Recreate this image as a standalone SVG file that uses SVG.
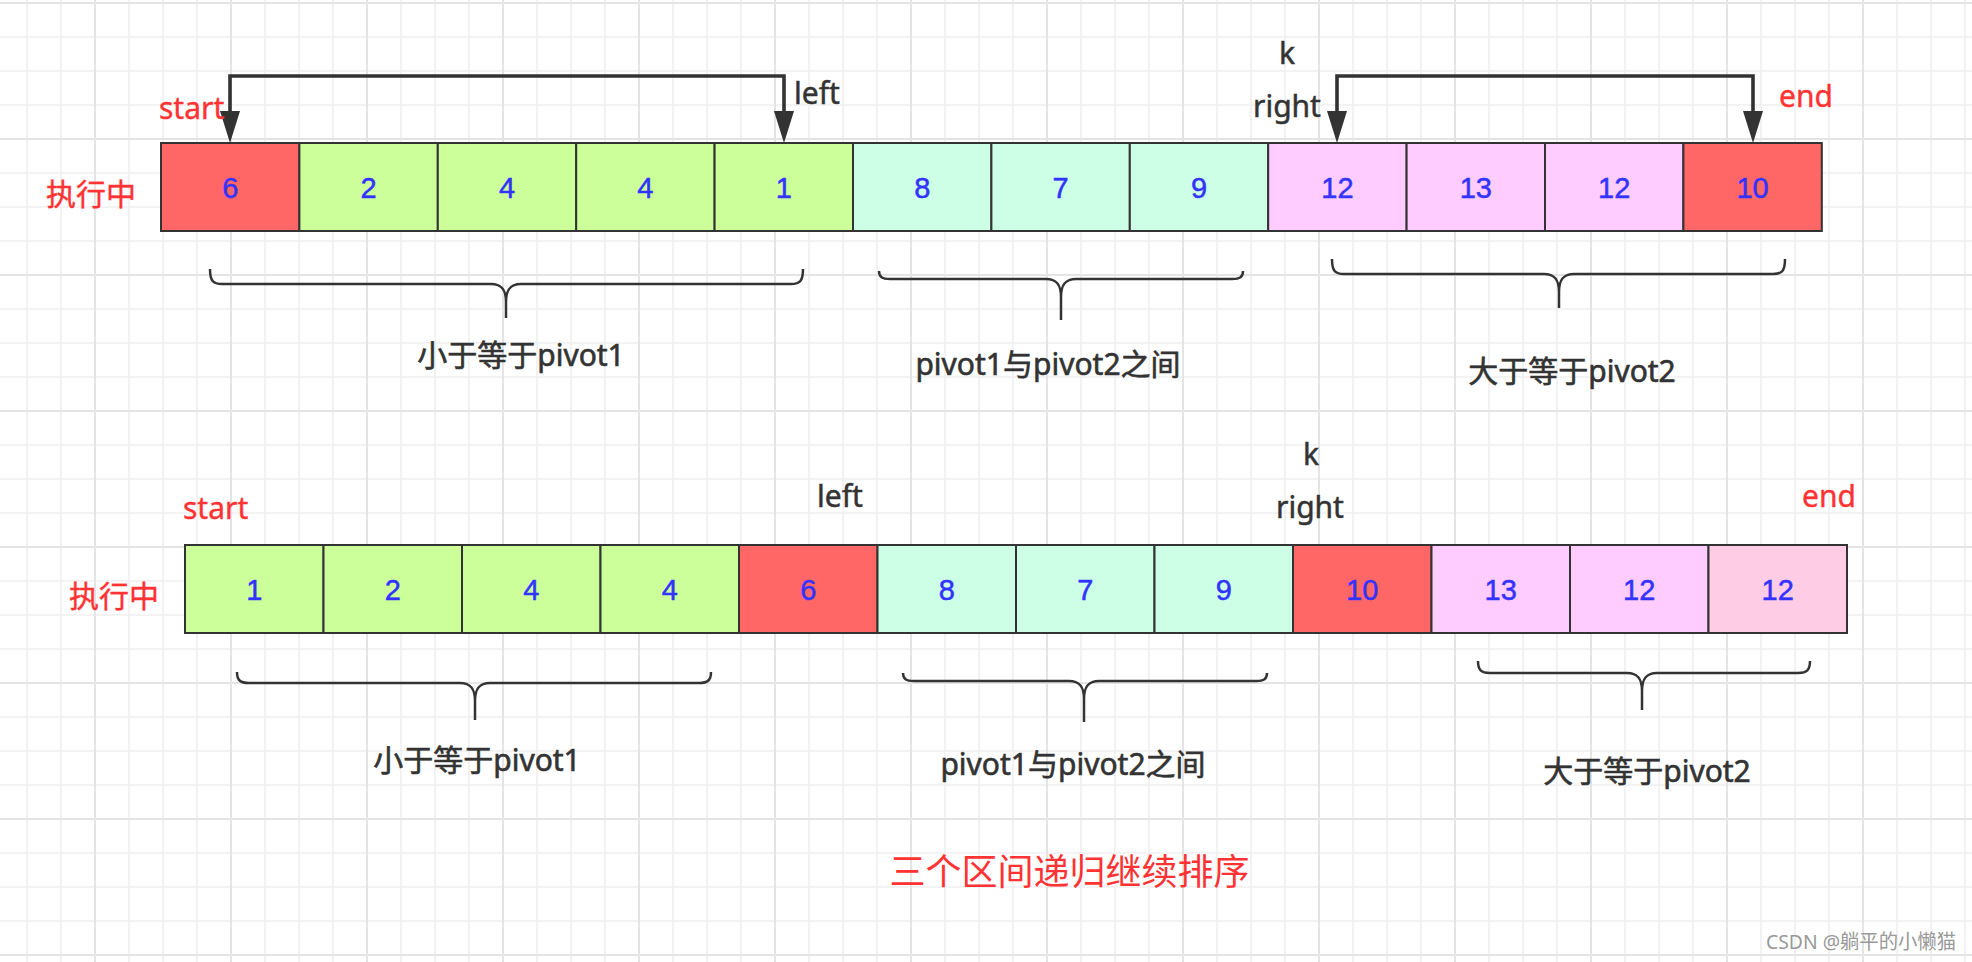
<svg xmlns="http://www.w3.org/2000/svg" width="1972" height="962" viewBox="0 0 1972 962">
<style>
.cell{stroke:#333;stroke-width:2}
.red{fill:#FF6666}.grn{fill:#CCFF99}.mnt{fill:#CCFFE6}.pnk{fill:#FFCCFF}.pk2{fill:#FFCCE6}
.num{font-family:"Liberation Sans",Arial,sans-serif;font-size:29px;fill:#3333FF;text-anchor:middle;stroke:#3333FF;stroke-width:0.5}
.lbl{font-family:"Noto Sans","Noto Sans CJK SC",sans-serif;font-size:30px;fill:#333;stroke:#333;stroke-width:0.5}
.rl{font-family:"Noto Sans","Noto Sans CJK SC",sans-serif;font-size:30px;fill:#FF3333;stroke:#FF3333;stroke-width:0.4}
.bl{font-family:"Noto Sans","Noto Sans CJK SC",sans-serif;font-size:30px;fill:#333;text-anchor:middle;stroke:#333;stroke-width:0.6}
.brace{fill:none;stroke:#333;stroke-width:2.5}
.conn{fill:none;stroke:#333;stroke-width:3.6;marker-start:url(#ah);marker-end:url(#ah)}
</style>
<defs>
<pattern id="grid" x="95" y="3" width="136" height="136" patternUnits="userSpaceOnUse">
<path d="M34 0V136M68 0V136M102 0V136M0 34H136M0 68H136M0 102H136" stroke="#efefef" stroke-width="1.6" fill="none"/>
<path d="M0 0V136M136 0V136M0 0H136M0 136H136" stroke="#e4e4e4" stroke-width="2" fill="none"/>
</pattern>
<marker id="ah" viewBox="0 0 32 20" refX="0" refY="10" markerWidth="32" markerHeight="20" orient="auto-start-reverse" markerUnits="userSpaceOnUse">
<path d="M0,0 L32,10 L0,20 Z" fill="#333"/>
</marker>
</defs>
<rect width="1972" height="962" fill="#fff"/>
<rect width="1972" height="962" fill="url(#grid)"/>

<g id="row1">
<g id="r1c0"><rect class="cell red" x="161" y="143" width="138.4" height="88"/><text class="num" x="230.2" y="197.5">6</text></g>
<g id="r1c1"><rect class="cell grn" x="299.4" y="143" width="138.4" height="88"/><text class="num" x="368.6" y="197.5">2</text></g>
<g id="r1c2"><rect class="cell grn" x="437.8" y="143" width="138.4" height="88"/><text class="num" x="507" y="197.5">4</text></g>
<g id="r1c3"><rect class="cell grn" x="576.2" y="143" width="138.4" height="88"/><text class="num" x="645.4" y="197.5">4</text></g>
<g id="r1c4"><rect class="cell grn" x="714.6" y="143" width="138.4" height="88"/><text class="num" x="783.8" y="197.5">1</text></g>
<g id="r1c5"><rect class="cell mnt" x="853" y="143" width="138.4" height="88"/><text class="num" x="922.2" y="197.5">8</text></g>
<g id="r1c6"><rect class="cell mnt" x="991.4" y="143" width="138.4" height="88"/><text class="num" x="1060.6" y="197.5">7</text></g>
<g id="r1c7"><rect class="cell mnt" x="1129.8" y="143" width="138.4" height="88"/><text class="num" x="1199" y="197.5">9</text></g>
<g id="r1c8"><rect class="cell pnk" x="1268.2" y="143" width="138.4" height="88"/><text class="num" x="1337.4" y="197.5">12</text></g>
<g id="r1c9"><rect class="cell pnk" x="1406.6" y="143" width="138.4" height="88"/><text class="num" x="1475.8" y="197.5">13</text></g>
<g id="r1c10"><rect class="cell pnk" x="1545" y="143" width="138.4" height="88"/><text class="num" x="1614.2" y="197.5">12</text></g>
<g id="r1c11"><rect class="cell red" x="1683.4" y="143" width="138.4" height="88"/><text class="num" x="1752.6" y="197.5">10</text></g>
</g>

<g id="row2">
<g id="r2c0"><rect class="cell grn" x="185" y="545" width="138.5" height="88"/><text class="num" x="254.25" y="599.5">1</text></g>
<g id="r2c1"><rect class="cell grn" x="323.5" y="545" width="138.5" height="88"/><text class="num" x="392.75" y="599.5">2</text></g>
<g id="r2c2"><rect class="cell grn" x="462" y="545" width="138.5" height="88"/><text class="num" x="531.25" y="599.5">4</text></g>
<g id="r2c3"><rect class="cell grn" x="600.5" y="545" width="138.5" height="88"/><text class="num" x="669.75" y="599.5">4</text></g>
<g id="r2c4"><rect class="cell red" x="739" y="545" width="138.5" height="88"/><text class="num" x="808.25" y="599.5">6</text></g>
<g id="r2c5"><rect class="cell mnt" x="877.5" y="545" width="138.5" height="88"/><text class="num" x="946.75" y="599.5">8</text></g>
<g id="r2c6"><rect class="cell mnt" x="1016" y="545" width="138.5" height="88"/><text class="num" x="1085.25" y="599.5">7</text></g>
<g id="r2c7"><rect class="cell mnt" x="1154.5" y="545" width="138.5" height="88"/><text class="num" x="1223.75" y="599.5">9</text></g>
<g id="r2c8"><rect class="cell red" x="1293" y="545" width="138.5" height="88"/><text class="num" x="1362.25" y="599.5">10</text></g>
<g id="r2c9"><rect class="cell pnk" x="1431.5" y="545" width="138.5" height="88"/><text class="num" x="1500.75" y="599.5">13</text></g>
<g id="r2c10"><rect class="cell pnk" x="1570" y="545" width="138.5" height="88"/><text class="num" x="1639.25" y="599.5">12</text></g>
<g id="r2c11"><rect class="cell pk2" x="1708.5" y="545" width="138.5" height="88"/><text class="num" x="1777.75" y="599.5">12</text></g>
</g>

<g id="connectors">
<path class="conn" d="M230,111 V76 H784 V111"/>
<path class="conn" d="M1337,111 V76 H1753 V111"/>
</g>

<g id="labels1">
<text id="exec1" class="rl" x="46" y="205">执行中</text>
<text id="start1" class="rl" x="159" y="119">start</text>
<text id="left1" class="lbl" x="794" y="104">left</text>
<text id="k1" class="lbl" x="1287" y="64" text-anchor="middle">k</text>
<text id="right1" class="lbl" x="1253" y="117">right</text>
<text id="end1" class="rl" x="1779" y="107">end</text>
</g>

<g id="labels2">
<text id="exec2" class="rl" x="69" y="607">执行中</text>
<text id="start2" class="rl" x="183" y="519">start</text>
<text id="left2" class="lbl" x="817" y="507">left</text>
<text id="k2" class="lbl" x="1311" y="465" text-anchor="middle">k</text>
<text id="right2" class="lbl" x="1276" y="518">right</text>
<text id="end2" class="rl" x="1802" y="507">end</text>
</g>

<g id="brace1a"><path class="brace" d="M210,269 C210,281 213,284 222,284 L491,284 C502,284 506,290 506,302 L506,318 M506,302 C506,290 510,284 521,284 L791,284 C800,284 803,281 803,269"/><text class="bl" x="521" y="366">小于等于pivot1</text></g>
<g id="brace1b"><path class="brace" d="M879,271 C879,277 882,279 890,279 L1046,279 C1057,279 1061,285 1061,297 L1061,320 M1061,297 C1061,285 1065,279 1076,279 L1232,279 C1240,279 1243,277 1243,271"/><text class="bl" x="1048" y="375">pivot1与pivot2之间</text></g>
<g id="brace1c"><path class="brace" d="M1332,259 C1332,271 1335,274 1344,274 L1544,274 C1555,274 1559,280 1559,292 L1559,308 M1559,292 C1559,280 1563,274 1574,274 L1773,274 C1782,274 1785,271 1785,259"/><text class="bl" x="1572" y="382">大于等于pivot2</text></g>

<g id="brace2a"><path class="brace" d="M237,672 C237,680 240,683 249,683 L460,683 C471,683 475,689 475,701 L475,720 M475,701 C475,689 479,683 490,683 L699,683 C708,683 711,680 711,672"/><text class="bl" x="477" y="771">小于等于pivot1</text></g>
<g id="brace2b"><path class="brace" d="M903,673 C903,679 906,681 914,681 L1069,681 C1080,681 1084,687 1084,699 L1084,722 M1084,699 C1084,687 1088,681 1099,681 L1256,681 C1264,681 1267,679 1267,673"/><text class="bl" x="1073" y="775">pivot1与pivot2之间</text></g>
<g id="brace2c"><path class="brace" d="M1478,661 C1478,670 1481,673 1490,673 L1627,673 C1638,673 1642,679 1642,691 L1642,710 M1642,691 C1642,679 1646,673 1657,673 L1798,673 C1807,673 1810,670 1810,661"/><text class="bl" x="1647" y="782">大于等于pivot2</text></g>

<g id="note"><text x="1069.5" y="885" text-anchor="middle" font-family="'Noto Sans CJK SC',sans-serif" font-size="36" fill="#FF3333">三个区间递归继续排序</text></g>
<g id="watermark"><text x="1766" y="949" font-family="'Noto Sans','Noto Sans CJK SC',sans-serif" font-size="20" fill="#999" textLength="190" lengthAdjust="spacingAndGlyphs">CSDN @躺平的小懒猫</text></g>
</svg>
